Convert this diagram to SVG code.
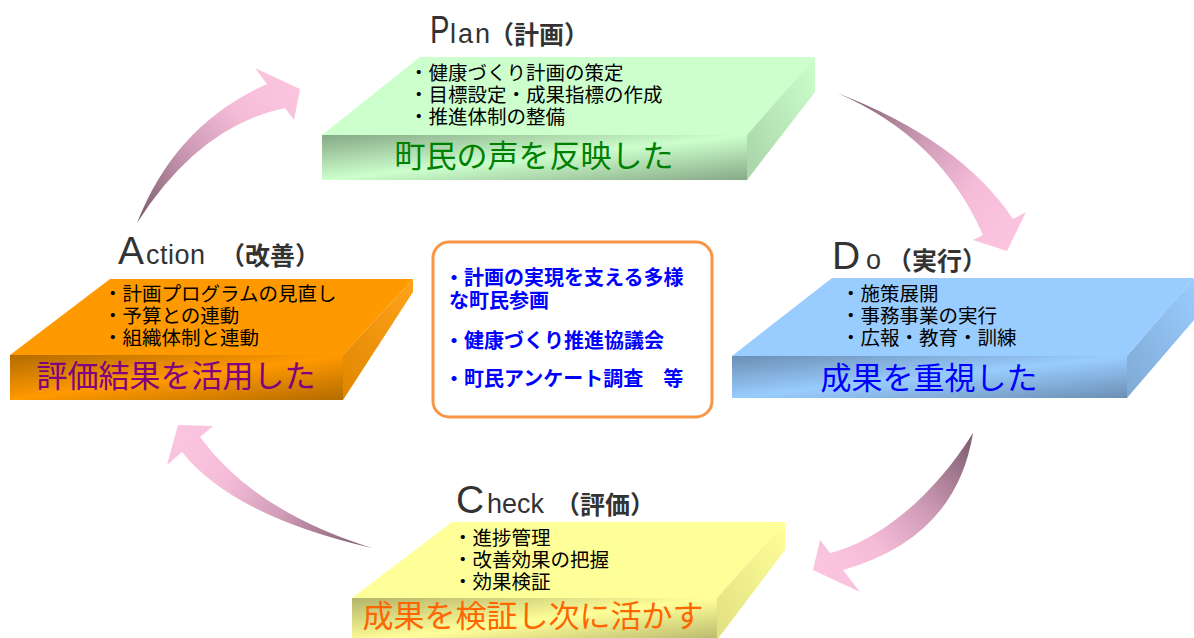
<svg xmlns="http://www.w3.org/2000/svg" width="1194" height="638" viewBox="0 0 1194 638">
<style>
.bl{font-family:"Noto Sans CJK JP","Noto Sans CJK SC",sans-serif;font-size:19.5px;fill:#000}
.mt{font-family:"Noto Sans CJK JP","Noto Sans CJK SC",sans-serif;font-size:31px;text-anchor:middle}
.cap{font-family:"Liberation Sans",Arial,sans-serif;font-size:39px;fill:#333}
.sm{font-family:"Liberation Sans",Arial,sans-serif;font-size:27px;fill:#333}
.jp{font-family:"Noto Sans CJK JP","Noto Sans CJK SC",sans-serif;font-size:25px;font-weight:bold;fill:#333}
.ct{font-family:"Noto Sans CJK JP","Noto Sans CJK SC",sans-serif;font-size:20px;font-weight:bold;fill:#0000ff}
</style>
<defs>
<linearGradient id="fP" x1="0" y1="0" x2="1" y2="1"><stop offset="0" stop-color="#86a886"/><stop offset="0.5" stop-color="#ccffcc"/><stop offset="1" stop-color="#86a886"/></linearGradient>
<linearGradient id="fD" x1="0" y1="0" x2="1" y2="1"><stop offset="0" stop-color="#6b8fb3"/><stop offset="0.5" stop-color="#99ccff"/><stop offset="1" stop-color="#6b8fb3"/></linearGradient>
<linearGradient id="fA" x1="0" y1="0" x2="1" y2="1"><stop offset="0" stop-color="#b36b00"/><stop offset="0.5" stop-color="#ff9900"/><stop offset="1" stop-color="#b36b00"/></linearGradient>
<linearGradient id="fC" x1="0" y1="0" x2="1" y2="1"><stop offset="0" stop-color="#b3b36b"/><stop offset="0.5" stop-color="#ffff99"/><stop offset="1" stop-color="#b3b36b"/></linearGradient>
<linearGradient id="sP" x1="0" y1="1" x2="1" y2="0"><stop offset="0" stop-color="#a8d4a8"/><stop offset="1" stop-color="#ccffcc"/></linearGradient>
<linearGradient id="sD" x1="0" y1="1" x2="1" y2="0"><stop offset="0" stop-color="#7faad4"/><stop offset="1" stop-color="#99ccff"/></linearGradient>
<linearGradient id="sA" x1="0" y1="1" x2="1" y2="0"><stop offset="0" stop-color="#e08700"/><stop offset="1" stop-color="#ffa31a"/></linearGradient>
<linearGradient id="sC" x1="0" y1="1" x2="1" y2="0"><stop offset="0" stop-color="#e0e080"/><stop offset="1" stop-color="#ffff99"/></linearGradient>
<linearGradient id="a1" gradientUnits="userSpaceOnUse" x1="137" y1="223" x2="285" y2="90"><stop offset="0" stop-color="#7a5a6a"/><stop offset="0.45" stop-color="#d09cb8"/><stop offset="0.75" stop-color="#f5bcd8"/><stop offset="1" stop-color="#fac4de"/></linearGradient>
<linearGradient id="a2" gradientUnits="userSpaceOnUse" x1="837" y1="93" x2="1005" y2="235"><stop offset="0" stop-color="#7a5a6a"/><stop offset="0.45" stop-color="#d09cb8"/><stop offset="0.75" stop-color="#f5bcd8"/><stop offset="1" stop-color="#fac4de"/></linearGradient>
<linearGradient id="a3" gradientUnits="userSpaceOnUse" x1="973" y1="433" x2="830" y2="570"><stop offset="0" stop-color="#7a5a6a"/><stop offset="0.45" stop-color="#d09cb8"/><stop offset="0.75" stop-color="#f5bcd8"/><stop offset="1" stop-color="#fac4de"/></linearGradient>
<linearGradient id="a4" gradientUnits="userSpaceOnUse" x1="372" y1="548" x2="190" y2="440"><stop offset="0" stop-color="#7a5a6a"/><stop offset="0.45" stop-color="#d09cb8"/><stop offset="0.75" stop-color="#f5bcd8"/><stop offset="1" stop-color="#fac4de"/></linearGradient>
</defs>
<rect width="1194" height="638" fill="#fff"/>

<g id="connectors">
<path fill="url(#a1)" d="M137,223 Q175,125 267,84 L255,68 L300,89 L294,120 L285,108 Q199,126 137,223 Z"/>
<path fill="url(#a2)" d="M837,93 Q960,140 1013,219 L1026,212 L1007,251 L973,240 L983,235 Q940,137 837,93 Z"/>
<path fill="url(#a3)" d="M973,433 Q956,538 843,570 L860,592 L813,570 L820,540 L830,553 C865,545 925,510 973,433 Z"/>
<path fill="url(#a4)" d="M372,548 Q254,511 200,437 L213,426 L178,425 L167,465 L182,452 Q233,516 372,548 Z"/>
</g>

<g id="plan">
<polygon points="322,135 420,57 815,57 747,135" fill="#ccffcc"/>
<polygon points="747,135 815,57 815,92 747,180" fill="url(#sP)"/>
<rect x="322" y="135" width="425" height="45" fill="url(#fP)"/>
<text class="cap" transform="translate(430,43) scale(0.75,1)">P</text>
<text class="sm" x="450" y="43" letter-spacing="2">lan</text>
<text class="jp" x="489" y="44">（計画）</text>
<text class="bl" x="409" y="80">・健康づくり計画の策定</text>
<text class="bl" x="409" y="102">・目標設定・成果指標の作成</text>
<text class="bl" x="409" y="124">・推進体制の整備</text>
<text class="mt" x="534" y="167" fill="#008000">町民の声を反映した</text>
</g>

<g id="do">
<polygon points="732,356 832,278 1194,278 1127,356" fill="#99ccff"/>
<polygon points="1127,356 1194,278 1194,320 1127,398" fill="url(#sD)"/>
<rect x="732" y="356" width="395" height="42" fill="url(#fD)"/>
<text class="cap" x="832" y="269">D</text>
<text class="sm" x="866" y="269">o</text>
<text class="jp" x="887" y="270">（実行）</text>
<text class="bl" x="841" y="301">・施策展開</text>
<text class="bl" x="841" y="323">・事務事業の実行</text>
<text class="bl" x="841" y="345">・広報・教育・訓練</text>
<text class="mt" x="929" y="389" fill="#0000ff">成果を重視した</text>
</g>

<g id="action">
<polygon points="10,355 110,279 413,279 343,355" fill="#ff9900"/>
<polygon points="343,355 413,279 413,292 343,400" fill="url(#sA)"/>
<rect x="10" y="355" width="333" height="45" fill="url(#fA)"/>
<text class="cap" x="118" y="264">A</text>
<text class="sm" x="146" y="264" letter-spacing="0.5">ction</text>
<text class="jp" x="220" y="265">（改善）</text>
<text class="bl" x="103" y="301">・計画プログラムの見直し</text>
<text class="bl" x="103" y="323">・予算との連動</text>
<text class="bl" x="103" y="345">・組織体制と連動</text>
<text class="mt" x="176" y="387" fill="#800080">評価結果を活用した</text>
</g>

<g id="check">
<polygon points="352,598 452,522 785,522 717,598" fill="#ffff99"/>
<polygon points="717,598 785,522 785,550 717,640" fill="url(#sC)"/>
<rect x="352" y="598" width="365" height="45" fill="url(#fC)"/>
<text class="cap" x="456" y="513">C</text>
<text class="sm" x="487" y="513">heck</text>
<text class="jp" x="555" y="514">（評価）</text>
<text class="bl" x="453" y="545">・進捗管理</text>
<text class="bl" x="453" y="567">・改善効果の把握</text>
<text class="bl" x="453" y="589">・効果検証</text>
<text class="mt" x="533" y="627" fill="#ff6600">成果を検証し次に活かす</text>
</g>

<g id="center">
<rect x="433" y="242" width="279" height="175" rx="16" ry="16" fill="#fff" stroke="#f79646" stroke-width="3"/>
<text class="ct" x="444" y="285">・計画の実現を支える多様</text>
<text class="ct" x="449" y="308">な町民参画</text>
<text class="ct" x="444" y="348">・健康づくり推進協議会</text>
<text class="ct" x="444" y="386">・町民アンケート調査　等</text>
</g>
</svg>
